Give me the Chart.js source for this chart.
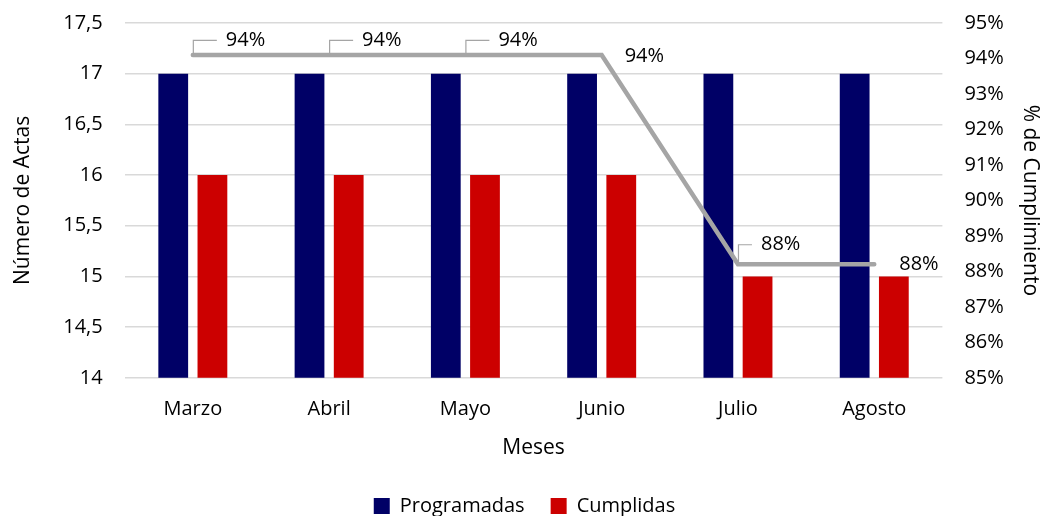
<!DOCTYPE html>
<html>
<head>
<meta charset="utf-8">
<script src="https://cdn.jsdelivr.net/npm/chart.js@4"></script>
<style>
  html, body { margin: 0; padding: 0; background: #fff; overflow: hidden; }
  #wrap { width: 1047px; height: 527px; margin-top: -11px; }
</style>
</head>
<body>
<div id="wrap"><canvas id="chart"></canvas></div>
<script>
const meses = ["Marzo", "Abril", "Mayo", "Junio", "Julio", "Agosto"];
const programadas = [17, 17, 17, 17, 17, 17];
const cumplidas = [16, 16, 16, 16, 15, 15];
const cumplimiento = [0.941, 0.941, 0.941, 0.941, 0.882, 0.882];
const cumplimientoLabels = ["94%", "94%", "94%", "94%", "88%", "88%"];

const navy = "#000066";
const red = "#CC0000";
const grey = "#A5A5A5";
const fontFamily = "'Open Sans', 'Noto Sans', sans-serif";

// label placement relative to each line point: [textDx, textDy, leader?]
const labelPlacement = [
  [33, -15, true],
  [33, -15, true],
  [33, -15, true],
  [23, 1, false],
  [23, -20, true],
  [25, 0, false],
];

const lineLabels = {
  id: "lineLabels",
  afterDatasetsDraw(chart) {
    const ctx = chart.ctx;
    const meta = chart.getDatasetMeta(2);
    ctx.save();
    ctx.font = `20px ${fontFamily}`;
    ctx.fillStyle = "#000";
    ctx.textAlign = "left";
    ctx.textBaseline = "middle";
    meta.data.forEach((pt, i) => {
      const [dx, dy, leader] = labelPlacement[i];
      const tx = pt.x + dx;
      const ty = pt.y + dy;
      if (leader) {
        ctx.strokeStyle = grey;
        ctx.lineWidth = 1.2;
        ctx.beginPath();
        ctx.moveTo(pt.x + 0.5, pt.y);
        ctx.lineTo(pt.x + 0.5, ty + 0.5);
        ctx.lineTo(tx - 9, ty + 0.5);
        ctx.stroke();
      }
      ctx.fillText(cumplimientoLabels[i], tx, ty);
    });
    ctx.restore();
  },
};

new Chart(document.getElementById("chart"), {
  data: {
    labels: meses,
    datasets: [
      {
        type: "bar",
        label: "Programadas",
        data: programadas,
        backgroundColor: navy,
        yAxisID: "y",
        categoryPercentage: 0.575,
        barPercentage: 0.76,
        order: 2,
      },
      {
        type: "bar",
        label: "Cumplidas",
        data: cumplidas,
        backgroundColor: red,
        yAxisID: "y",
        categoryPercentage: 0.575,
        barPercentage: 0.76,
        order: 2,
      },
      {
        type: "line",
        label: "% de Cumplimiento",
        data: cumplimiento,
        borderColor: grey,
        borderWidth: 4.5,
        pointRadius: 0,
        tension: 0,
        yAxisID: "y1",
        order: 1,
        borderCapStyle: "round",
      },
    ],
  },
  options: {
    responsive: true,
    maintainAspectRatio: false,
    animation: false,
    layout: { padding: { left: 6, right: 4, top: 0, bottom: -10 } },
    plugins: {
      tooltip: { enabled: false },
      legend: {
        position: "bottom",
        labels: {
          filter: (item) => item.datasetIndex < 2,
          boxWidth: 16,
          boxHeight: 16,
          padding: 26,
          color: "#000",
          font: { family: fontFamily, size: 20 },
        },
      },
    },
    scales: {
      x: {
        grid: { display: false },
        border: { display: false },
        ticks: { color: "#000", font: { family: fontFamily, size: 20 }, padding: 11 },
        title: {
          display: true,
          text: "Meses",
          color: "#000",
          font: { family: fontFamily, size: 21 },
          padding: { top: 4, bottom: 9 },
        },
      },
      y: {
        position: "left",
        min: 14,
        max: 17.5,
        ticks: {
          stepSize: 0.5,
          color: "#000",
          font: { family: fontFamily, size: 20 },
          padding: 22,
          callback: (v) => String(v).replace(".", ","),
        },
        grid: { color: "#D9D9D9", lineWidth: 1.5, drawTicks: false },
        border: { display: false },
        title: {
          display: true,
          text: "Número de Actas",
          color: "#000",
          font: { family: fontFamily, size: 21 },
          padding: { bottom: 6 },
        },
      },
      y1: {
        position: "right",
        min: 0.85,
        max: 0.95,
        ticks: {
          stepSize: 0.01,
          color: "#000",
          font: { family: fontFamily, size: 20 },
          padding: 14,
          callback: (v) => Math.round(v * 100) + "%",
        },
        grid: { display: false },
        border: { display: false },
        title: {
          display: true,
          text: "% de Cumplimiento",
          color: "#000",
          font: { family: fontFamily, size: 21 },
          padding: { top: 0, bottom: 0 },
        },
      },
    },
  },
  plugins: [lineLabels],
});
</script>
</body>
</html>
